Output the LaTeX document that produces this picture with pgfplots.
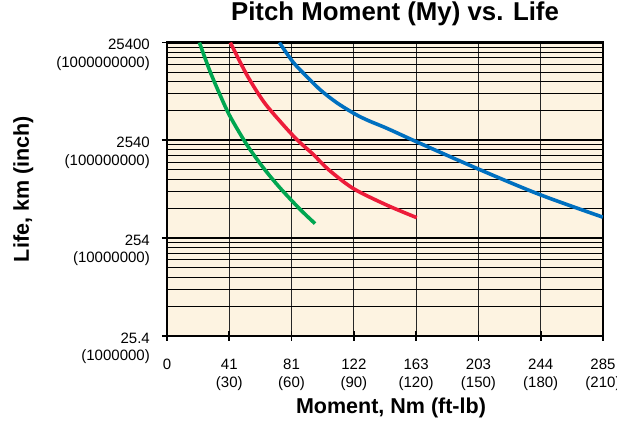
\documentclass[border=0pt]{standalone}
\usepackage{fontspec}
\setmainfont{Liberation Sans}
\usepackage{pgfplots}
\pgfplotsset{compat=1.18}

\definecolor{bgcream}{HTML}{FDF3E1}
\definecolor{cgreen}{HTML}{00A651}
\definecolor{cred}{HTML}{ED1C3A}
\definecolor{cblue}{HTML}{0070C0}

\begin{document}
\begin{tikzpicture}
\begin{axis}[
    scale only axis,
    width=436pt, height=293.5pt,
    xmin=0, xmax=210,
    ymode=log, ymin=1e6, ymax=1e9,
    axis background/.style={fill=bgcream},
    axis line style={line width=2.2pt},
    xtick={0,30,60,90,120,150,180,210},
    xticklabels={0, 41\\(30), 81\\(60), 122\\(90), 163\\(120), 203\\(150), 244\\(180), 285\\(210)},
    ytick={1e6,1e7,1e8,1e9},
    yticklabels={25.4\\(1000000), 254\\(10000000), 2540\\(100000000), 25400\\(1000000000)},
    xtick pos=bottom, ytick pos=left,
    tick align=center,
    major tick length=10pt,
    minor tick length=0pt,
    every tick/.style={black, line width=1.8pt},
    xmajorgrids, ymajorgrids, yminorgrids,
    major grid style={line width=0.8pt, black!85},
    minor grid style={line width=0.8pt, black},
    extra y ticks={1e7,1e8},
    extra y tick labels={},
    extra y tick style={major grid style={line width=2pt, black}},
    x tick label style={font=\fontsize{15}{18}\selectfont, align=center, anchor=north, inner sep=0pt, yshift=-18pt},
    y tick label style={font=\fontsize{15}{17.5}\selectfont, align=right, anchor=north east, inner sep=0pt, xshift=-12pt, yshift=3.5pt},
    title={Pitch Moment (My) vs. Life},
    title style={font=\fontsize{25.8}{30}\bfseries\selectfont, anchor=base, at={(axis description cs:0.5,1)}, yshift=16pt, xshift=10pt},
    xlabel={Moment, Nm (ft-lb)},
    xlabel style={font=\fontsize{21.5}{26}\bfseries\selectfont, anchor=base, at={(axis description cs:0.5,0)}, yshift=-78pt, xshift=6pt},
    ylabel={Life, km (inch)},
    ylabel style={font=\fontsize{21.5}{26}\bfseries\selectfont, anchor=base, at={([xshift=-138pt]axis description cs:0,0.5)}},
    every axis plot/.append style={line width=3.6pt, smooth, tension=0.5},
]
% green
\addplot[cgreen] coordinates {
    (15.6,1.00e9) (20.7,5.08e8) (25.5,2.93e8) (30.3,1.77e8) (38.4,9.06e7)
    (46.4,5.24e7) (54.4,3.27e7) (64.1,1.97e7) (71.3,1.41e7)
};
% red
\addplot[cred] coordinates {
    (30.5,1.00e9) (38.4,4.69e8) (46.4,2.51e8) (54.4,1.57e8) (62.5,1.02e8)
    (70.5,7.16e7) (77.7,5.04e7) (89.7,3.22e7) (105.8,2.18e7) (120.3,1.62e7)
};
% blue
\addplot[cblue] coordinates {
    (54.1,1.00e9) (60.4,6.43e8) (65.6,4.88e8) (73.7,3.30e8) (81.7,2.43e8)
    (90.5,1.86e8) (97.0,1.59e8) (105.8,1.33e8) (121.9,9.31e7) (150.8,5.00e7)
    (179.7,2.78e7) (209.9,1.64e7)
};
\end{axis}
\pgfresetboundingbox
\path[use as bounding box] ([shift={(-167pt,-87pt)}]current axis.south west) rectangle ++(617pt,423pt);
\end{tikzpicture}
\end{document}
